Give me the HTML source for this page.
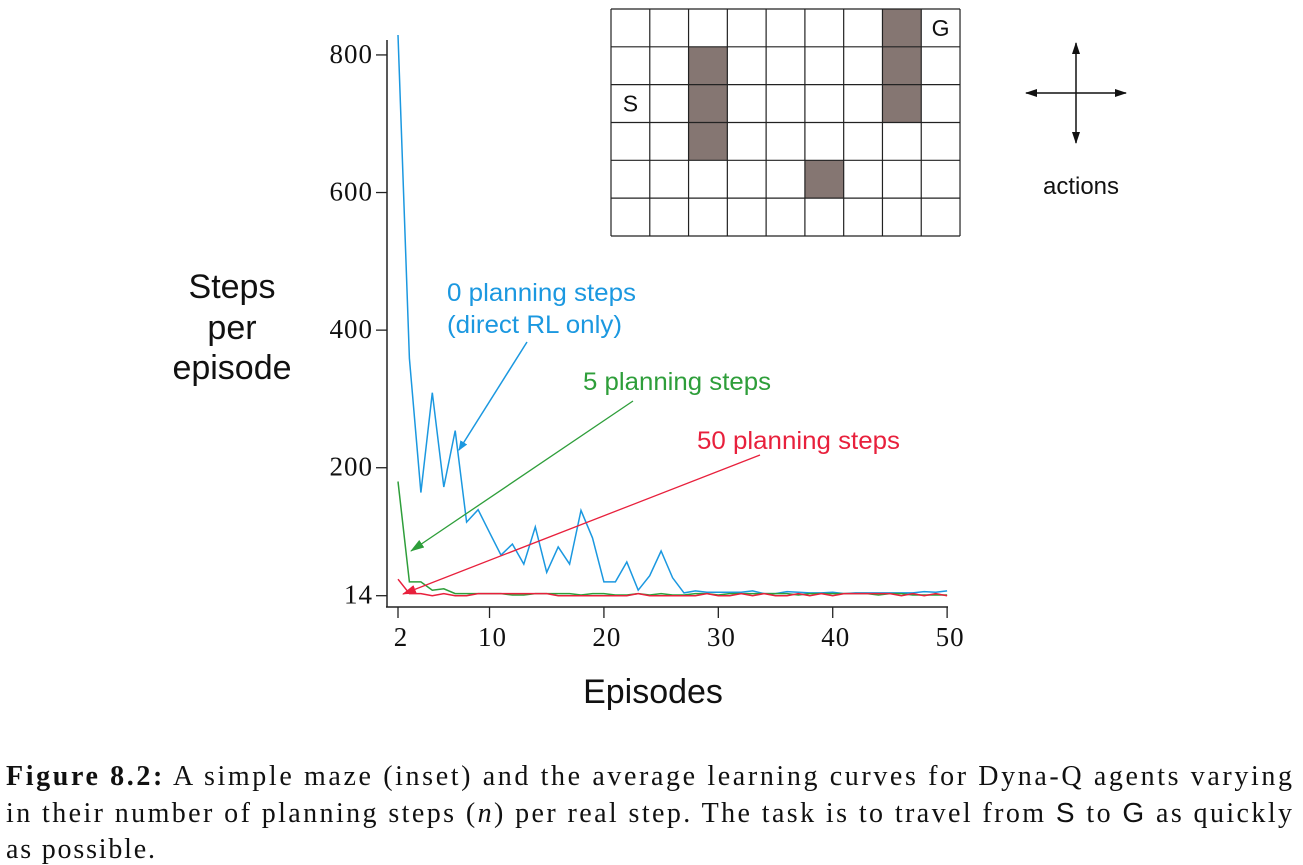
<!DOCTYPE html>
<html><head><meta charset="utf-8"><style>
body{margin:0;background:#fff;}
svg{display:block;}
.serif{font-family:"Liberation Serif",serif;}
.sans{font-family:"Liberation Sans","DejaVu Sans",sans-serif;}
</style></head><body>
<svg id="chart" width="1303" height="865" viewBox="0 0 1303 865" xmlns="http://www.w3.org/2000/svg">
<defs>
<marker id="ab" markerWidth="10" markerHeight="8" refX="9" refY="4" orient="auto" markerUnits="userSpaceOnUse"><path d="M0,0 L10,4 L0,8 Z" fill="#1b98e0"/></marker>
<marker id="ag" markerWidth="14" markerHeight="9" refX="13" refY="4.5" orient="auto" markerUnits="userSpaceOnUse"><path d="M0,0 L14,4.5 L0,9 Z" fill="#2e9e3a"/></marker>
<marker id="ar" markerWidth="14" markerHeight="9" refX="13" refY="4.5" orient="auto" markerUnits="userSpaceOnUse"><path d="M0,0 L14,4.5 L0,9 Z" fill="#e8203c"/></marker>
<marker id="ak" markerWidth="12" markerHeight="8" refX="11" refY="4" orient="auto" markerUnits="userSpaceOnUse"><path d="M0,0 L12,4 L0,8 Z" fill="#111"/></marker>
</defs>
<g id="axes"></g>
<g id="series"></g>

<text class="sans" x="232" y="297" font-size="34" text-anchor="middle" fill="#111"><tspan x="232" y="298">Steps</tspan><tspan x="232" y="339">per</tspan><tspan x="232" y="379">episode</tspan></text>
<text class="sans" x="653" y="703" font-size="34" text-anchor="middle" fill="#111">Episodes</text>

<g>
<text class="sans" x="447" y="301" font-size="25" fill="#1b98e0" textLength="189" lengthAdjust="spacingAndGlyphs">0 planning steps</text>
<text class="sans" x="447" y="333" font-size="25" fill="#1b98e0" textLength="175" lengthAdjust="spacingAndGlyphs">(direct RL only)</text>
<line x1="527" y1="342" x2="459" y2="450" stroke="#1b98e0" stroke-width="1.5" marker-end="url(#ab)"/>
</g>
<g>
<text class="sans" x="583" y="390" font-size="25" fill="#2e9e3a" textLength="188" lengthAdjust="spacingAndGlyphs">5 planning steps</text>
<line x1="633" y1="401" x2="411" y2="551" stroke="#2e9e3a" stroke-width="1.3" marker-end="url(#ag)"/>
</g>
<g>
<text class="sans" x="697" y="449" font-size="25" fill="#e8203c" textLength="203" lengthAdjust="spacingAndGlyphs">50 planning steps</text>
<line x1="760" y1="455" x2="403" y2="594" stroke="#e8203c" stroke-width="1.3" marker-end="url(#ar)"/>
</g>

<g id="maze"></g>

<g>
<line x1="1076" y1="93" x2="1126" y2="93" stroke="#111" stroke-width="1.5" marker-end="url(#ak)"/>
<line x1="1076" y1="93" x2="1026" y2="93" stroke="#111" stroke-width="1.5" marker-end="url(#ak)"/>
<line x1="1076" y1="93" x2="1076" y2="43" stroke="#111" stroke-width="1.5" marker-end="url(#ak)"/>
<line x1="1076" y1="93" x2="1076" y2="143" stroke="#111" stroke-width="1.5" marker-end="url(#ak)"/>
<text class="sans" x="1081" y="194" font-size="24" text-anchor="middle" fill="#111">actions</text>
</g>

<g class="serif" font-size="28" fill="#111">
<text x="6" y="785" textLength="1286" lengthAdjust="spacing"><tspan font-weight="bold">Figure 8.2:</tspan> A simple maze (inset) and the average learning curves for Dyna-Q agents varying</text>
<text x="6" y="822" textLength="1286" lengthAdjust="spacing">in their number of planning steps (<tspan font-style="italic">n</tspan>) per real step. The task is to travel from <tspan class="sans">S</tspan> to <tspan class="sans">G</tspan> as quickly</text>
<text x="6" y="858" textLength="149" lengthAdjust="spacing">as possible.</text>
</g>
</svg>
<script>
const episodes = [];
for (let e = 2; e <= 50; e++) episodes.push(e);
const xTicks = [2, 10, 20, 30, 40, 50];
const yTicks = [14, 200, 400, 600, 800];
const blueSteps = [829,359,164,309,172,254,121,139,106,73,89,60,114,48,85,60,138,98,34,34,63,22,43,79,40,18,21,19,19,19,19,21,17,17,20,19,18,18,19,17,18,18,18,18,18,18,20,19,21];
const greenSteps = [180,34,34,22,24,17,17,17,17,17,15,15,17,17,17,17,15,17,17,15,15,17,15,17,15,15,17,17,15,17,17,17,17,17,17,15,17,17,17,17,17,17,15,17,17,15,15,15,15];
const redSteps = [38,17,17,14,17,14,14,17,17,17,17,17,17,17,14,14,14,14,14,14,14,17,14,14,14,14,14,17,14,14,17,14,17,14,14,17,14,17,14,17,17,17,17,17,14,17,14,17,14];

const NS = "http://www.w3.org/2000/svg";
const xs = e => 398 + (e - 2) * 11.44;
const ys = v => 595.7 - (v - 14) * 0.688;

const axes = document.getElementById('axes');
function mk(tag, attrs, parent) {
  const el = document.createElementNS(NS, tag);
  for (const k in attrs) el.setAttribute(k, attrs[k]);
  parent.appendChild(el);
  return el;
}
const yAxis = mk('line', {x1:387, y1:40, x2:387, y2:607, stroke:'#222', 'stroke-width':1.5}, axes);


const xAxis = mk('line', {x1:386, y1:607, x2:948, y2:607, stroke:'#222', 'stroke-width':1.5}, axes);


xTicks.forEach(t => {
  const tk = mk('line', {x1:xs(t), y1:607, x2:xs(t), y2:618, stroke:'#222', 'stroke-width':1.3}, axes);
  
  
  const lb = mk('text', {x:xs(t)+3, y:646, 'font-size':27, 'text-anchor':'middle', fill:'#111', 'font-family':'Liberation Serif, serif', 'letter-spacing':1}, axes);
  lb.textContent = t;
  
  
});
yTicks.forEach(t => {
  const tk = mk('line', {x1:376, y1:ys(t), x2:387, y2:ys(t), stroke:'#222', 'stroke-width':1.3}, axes);
  
  
  const lb = mk('text', {x:373, y:ys(t)+8, 'font-size':27, 'text-anchor':'end', fill:'#111', 'font-family':'Liberation Serif, serif', 'letter-spacing':1}, axes);
  lb.textContent = t;
  
  
});

const series = document.getElementById('series');
function drawLine(vals, color, name) {
  const pts = vals.map((v, i) => xs(episodes[i]).toFixed(1) + ',' + ys(v).toFixed(1)).join(' ');
  const pl = mk('polyline', {points:pts, fill:'none', stroke:color, 'stroke-width':1.5, 'stroke-linejoin':'miter'}, series);
  
  
}
drawLine(blueSteps, '#1b98e0', 'line-0-planning-steps');
drawLine(greenSteps, '#2e9e3a', 'line-5-planning-steps');
drawLine(redSteps, '#e8203c', 'line-50-planning-steps');

const maze = document.getElementById('maze');
const mx = 611, my = 9, cw = 38.78, ch = 37.83, cols = 9, rows = 6;
const walls = [[2,1],[2,2],[2,3],[7,0],[7,1],[7,2],[5,4]];
walls.forEach(([c, r]) => {
  const w = mk('rect', {x:mx+c*cw, y:my+r*ch, width:cw, height:ch, fill:'#857672'}, maze);
  
  
});
for (let c = 0; c <= cols; c++) mk('line', {x1:mx+c*cw, y1:my, x2:mx+c*cw, y2:my+rows*ch, stroke:'#222', 'stroke-width':1.2}, maze);
for (let r = 0; r <= rows; r++) mk('line', {x1:mx, y1:my+r*ch, x2:mx+cols*cw, y2:my+r*ch, stroke:'#222', 'stroke-width':1.2}, maze);
const s = mk('text', {x:mx+0.5*cw, y:my+2.5*ch+8, 'font-size':23, 'text-anchor':'middle', fill:'#111', 'font-family':'Liberation Sans, sans-serif'}, maze);
s.textContent = 'S';


const g = mk('text', {x:mx+8.5*cw, y:my+0.5*ch+8, 'font-size':23, 'text-anchor':'middle', fill:'#111', 'font-family':'Liberation Sans, sans-serif'}, maze);
g.textContent = 'G';


</script>
</body></html>
